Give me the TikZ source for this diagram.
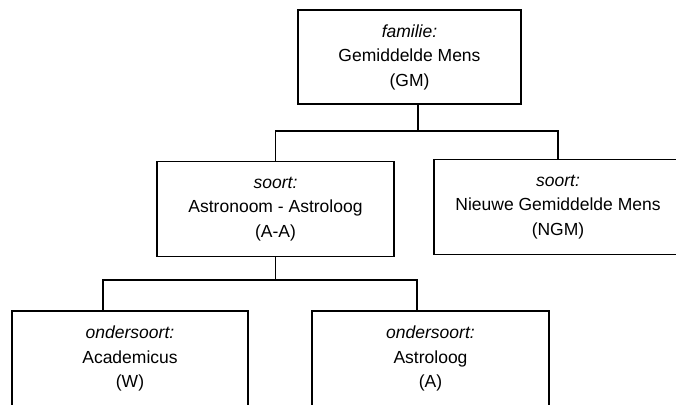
\documentclass[tikz,border=0pt]{standalone}
\usepackage{fontspec}
\setmainfont{Liberation Sans}
\begin{document}
\begin{tikzpicture}[x=1pt,y=-1pt,
  box/.style={draw, line width=1.6pt, rectangle, align=center, inner sep=0pt,
    font=\fontsize{17.5}{24.5}\selectfont},
  conn/.style={line width=1.5pt}]
\useasboundingbox (0,0) rectangle (676,404);
\clip (0,0) rectangle (676,404);
\node[box, minimum width=223pt, minimum height=94pt] (gm) at (409.5,57)
  {\textit{familie:}\\Gemiddelde Mens\\(GM)};
\node[box, minimum width=237pt, minimum height=95pt] (aa) at (275.5,209)
  {\textit{soort:}\\Astronoom - Astroloog\\(A-A)};
\node[box, minimum width=248pt, minimum height=95pt] (ngm) at (558,207)
  {\textit{soort:}\\Nieuwe Gemiddelde Mens\\(NGM)};
\node[box, minimum width=236pt, minimum height=95pt] (w) at (130,358.5)
  {\textit{ondersoort:}\\Academicus\\(W)};
\node[box, minimum width=237pt, minimum height=95pt] (a) at (430.5,358.5)
  {\textit{ondersoort:}\\Astroloog\\(A)};
\coordinate (j1) at (418,131);
\coordinate (j2) at (275.5,280);
\draw[conn] ([xshift=8.5pt]gm.south) -- (j1);
\draw[conn] (aa.north) |- (j1) -| (ngm.north);
\draw[conn] (aa.south) -- (j2);
\draw[conn] ([xshift=-27pt]w.north) |- (j2) -| ([xshift=-13.5pt]a.north);
\end{tikzpicture}
\end{document}
